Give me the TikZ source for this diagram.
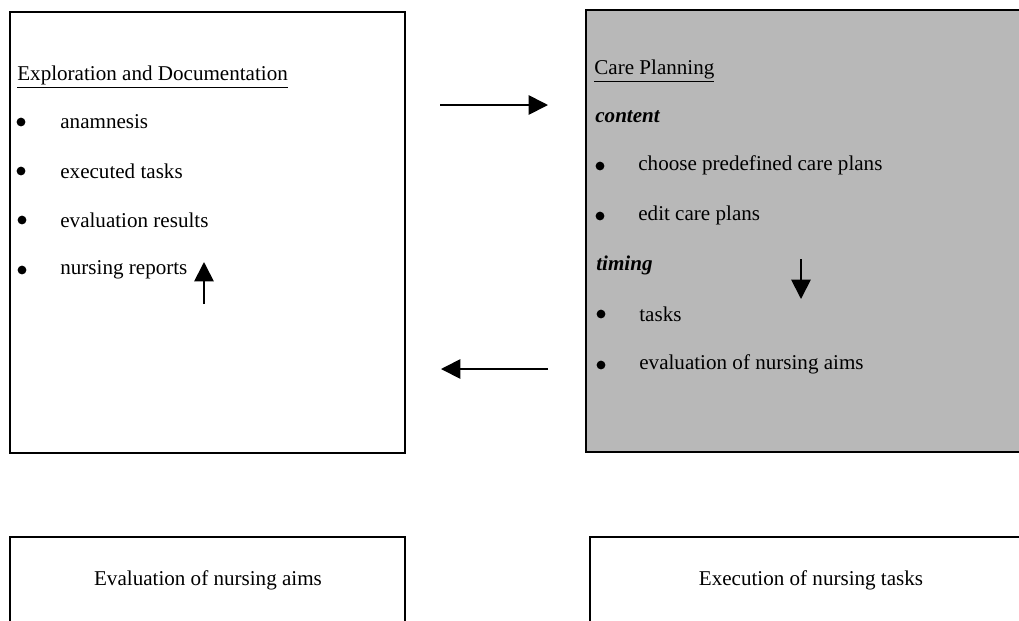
\documentclass[tikz,border=0pt]{standalone}
\usepackage{fontspec}
\setmainfont{Liberation Serif}
\usetikzlibrary{arrows.meta}

\tikzset{
    phase/.style={draw=black, line width=0.8pt},
    item/.style={anchor=west, inner sep=0pt, font=\fontsize{12}{14}\selectfont},
    dot/.style={circle, fill=black, inner sep=0pt, minimum size=5pt},
    flow/.style={line width=1pt, -{Triangle[length=11pt, width=11pt]}},
}

\begin{document}
\begin{tikzpicture}[x=0.02cm, y=-0.02cm]
        \clip (0, 0) rectangle (1019, 620);
        \fill[white] (0, 0) rectangle (1019, 620);

        % PHASE BOXES
        \draw[phase] (10, 12) rectangle (405, 453);
        \draw[phase, fill=black!28] (586, 10) rectangle (1030, 452);
        \draw[phase] (10, 537) rectangle (405, 640);
        \draw[phase] (590, 537) rectangle (1030, 640);

        % EXPLORATION
        \node[item] (expl) at (17, 77) {\underline{Exploration and Documentation}};
        \node[dot] (d1) at (21, 122) {};
        \node[item] (anam) at (60, 122) {anamnesis};
        \node[dot] (d2) at (21, 171) {};
        \node[item] (exec) at (60, 171) {executed tasks};
        \node[dot] (d3) at (22, 220) {};
        \node[item] (eval) at (60, 220) {evaluation results};
        \node[dot] (d4) at (22, 270) {};
        \node[item] (reports) at (60, 270) {nursing reports};

        % CARE PLANNING
        \node[item] (plan) at (594, 71) {\underline{Care Planning}};
        \node[item] (content) at (595, 117) {\textbf{\textit{content}}};
        \node[dot] (d5) at (600, 166) {};
        \node[item] (choose) at (638, 165) {choose predefined care plans};
        \node[dot] (d6) at (600, 216) {};
        \node[item] (edit) at (638, 215) {edit care plans};
        \node[item] (timing) at (596, 265) {\textbf{\textit{timing}}};
        \node[dot] (d7) at (601, 314) {};
        \node[item] (tasks) at (639, 314) {tasks};
        \node[dot] (d8) at (601, 365) {};
        \node[item] (aims) at (639, 364) {evaluation of nursing aims};

        % BOTTOM PHASES
        \node[item, anchor=center] (evalaims) at (208, 580) {Evaluation of nursing aims};
        \node[item, anchor=center] (exectasks) at (811, 580) {Execution of nursing tasks};

        % ARROWS
        \coordinate (r0) at (440, 105);
        \coordinate (r1) at (548, 105);
        \coordinate (l0) at (548, 369);
        \coordinate (l1) at (441, 369);
        \coordinate (u0) at (204, 304);
        \coordinate (u1) at (204, 262);
        \coordinate (w0) at (801, 259);
        \coordinate (w1) at (801, 299);
        \draw[flow] (r0) -- (r1);
        \draw[flow] (l0) -- (l1);
        \draw[flow] (u0) -- (u1);
        \draw[flow] (w0) -- (w1);
    \end{tikzpicture}
\end{document}
